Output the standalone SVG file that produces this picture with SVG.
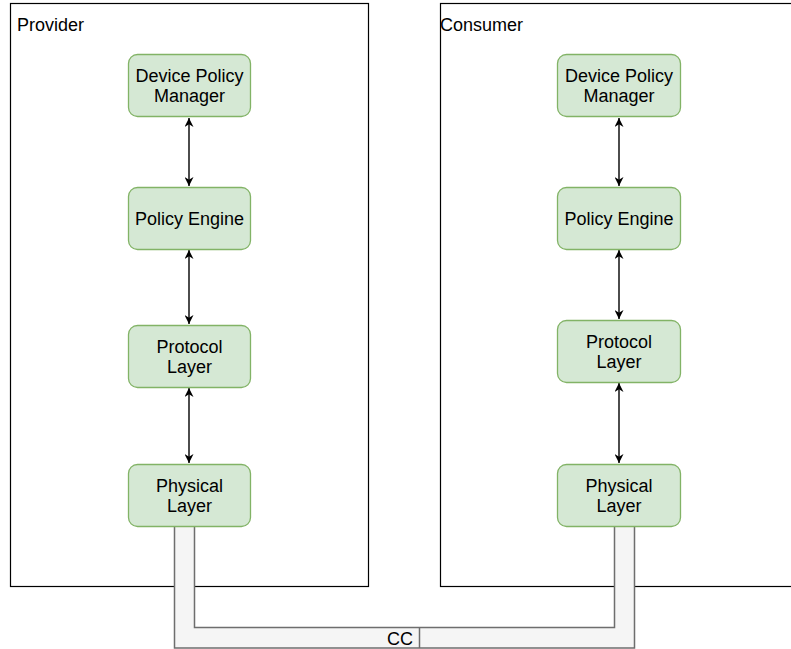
<svg xmlns="http://www.w3.org/2000/svg" width="791" height="649" viewBox="0 0 791 649">
<style>
.box{fill:#ffffff;stroke:#000000;stroke-width:1.2}
.node{fill:#d5e8d4;stroke:#82b366;stroke-width:1.3}
.t{font-family:"Liberation Sans",Arial,sans-serif;font-size:18px;fill:#000000}
.c{text-anchor:middle}
.edge{stroke:#000000;stroke-width:1.4;fill:none;marker-start:url(#ah);marker-end:url(#ah)}
.pipe{stroke:#6e6e6e;stroke-width:1.5;fill:none}
</style>
<defs>
<marker id="ah" viewBox="0 0 10 10" refX="10" refY="5" markerWidth="9" markerHeight="9" markerUnits="userSpaceOnUse" orient="auto-start-reverse">
<path d="M0,0 L10,5 L0,10 L3,5 Z" fill="#000000"/>
</marker>
</defs>
<g id="provider">
<rect class="box" x="10.5" y="3.5" width="358" height="583"/>
<text class="t" x="17" y="31">Provider</text>
</g>
<g id="consumer">
<rect class="box" x="440.5" y="3.5" width="360" height="583"/>
<text class="t" x="440" y="31">Consumer</text>
</g>
<g id="cc-link">
<path d="M174,526 V648 H635 V526 H614 V627 H195 V526 Z" fill="#f5f5f5"/>
<path class="pipe" d="M174.5,526 V648 H634.5 V526"/>
<path class="pipe" d="M194.5,526 V627.5 H614.5 V526"/>
<line class="pipe" x1="419.5" y1="627.5" x2="419.5" y2="648"/>
<text class="t" x="413" y="644.5" text-anchor="end">CC</text>
</g>
<g id="connectors">
<line class="edge" x1="189" y1="118" x2="189" y2="186"/>
<line class="edge" x1="189" y1="250" x2="189" y2="324"/>
<line class="edge" x1="189" y1="388" x2="189" y2="463"/>
<line class="edge" x1="619" y1="118" x2="619" y2="186"/>
<line class="edge" x1="619" y1="250" x2="619" y2="319"/>
<line class="edge" x1="619" y1="383" x2="619" y2="463"/>
</g>
<g id="p-dpm">
<rect class="node" x="128.5" y="54.5" width="122" height="62" rx="9"/>
<text class="t c" x="189.5" y="82">Device Policy</text>
<text class="t c" x="189.5" y="102">Manager</text>
</g>
<g id="p-pe">
<rect class="node" x="128.5" y="187.5" width="122" height="62" rx="9"/>
<text class="t c" x="189.5" y="225">Policy Engine</text>
</g>
<g id="p-pl">
<rect class="node" x="128.5" y="325.5" width="122" height="62" rx="9"/>
<text class="t c" x="189.5" y="353">Protocol</text>
<text class="t c" x="189.5" y="373">Layer</text>
</g>
<g id="p-phy">
<rect class="node" x="128.5" y="464.5" width="122" height="62" rx="9"/>
<text class="t c" x="189.5" y="492">Physical</text>
<text class="t c" x="189.5" y="512">Layer</text>
</g>
<g id="c-dpm">
<rect class="node" x="557.5" y="54.5" width="123" height="62" rx="9"/>
<text class="t c" x="619" y="82">Device Policy</text>
<text class="t c" x="619" y="102">Manager</text>
</g>
<g id="c-pe">
<rect class="node" x="557.5" y="187.5" width="123" height="62" rx="9"/>
<text class="t c" x="619" y="225">Policy Engine</text>
</g>
<g id="c-pl">
<rect class="node" x="557.5" y="320.5" width="123" height="62" rx="9"/>
<text class="t c" x="619" y="348">Protocol</text>
<text class="t c" x="619" y="368">Layer</text>
</g>
<g id="c-phy">
<rect class="node" x="557.5" y="464.5" width="123" height="62" rx="9"/>
<text class="t c" x="619" y="492">Physical</text>
<text class="t c" x="619" y="512">Layer</text>
</g>
</svg>
